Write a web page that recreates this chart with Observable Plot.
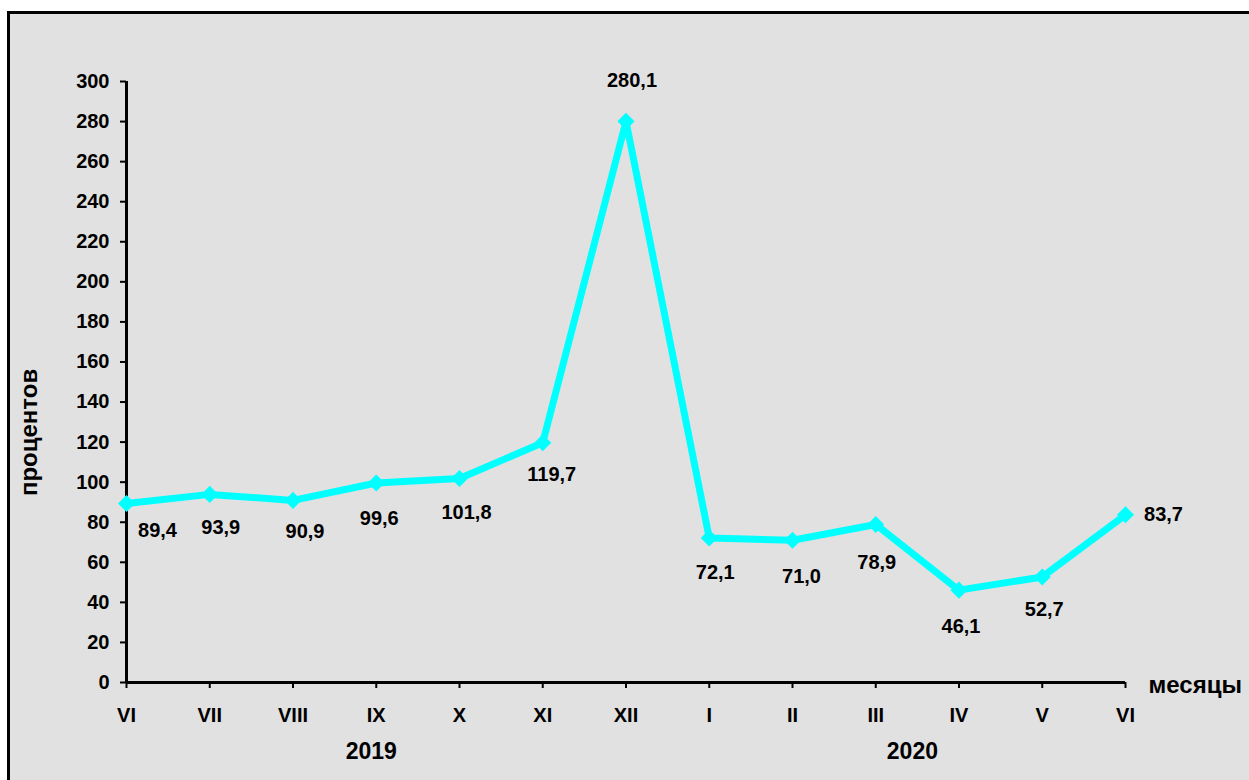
<!DOCTYPE html>
<html>
<head>
<meta charset="utf-8">
<script src="https://cdn.jsdelivr.net/npm/d3@7"></script>
<script src="https://cdn.jsdelivr.net/npm/@observablehq/plot@0.6"></script>
<style>
  html, body { margin: 0; padding: 0; width: 1249px; height: 780px; overflow: hidden; background: #ffffff; }
  #frame { position: absolute; left: 7px; top: 11px; width: 1260px; height: 800px; border: 3px solid #000; background: #e1e1e1; }
  #chart { position: absolute; left: 0; top: 0; }
</style>
</head>
<body>
<div id="frame"></div>
<div id="chart"></div>
<script>
// ---- data ----
const months = ["VI", "VII", "VIII", "IX", "X", "XI", "XII", "I", "II", "III", "IV", "V", "VI"];
const years  = [2019, 2019, 2019, 2019, 2019, 2019, 2019, 2020, 2020, 2020, 2020, 2020, 2020];
const values = [89.4, 93.9, 90.9, 99.6, 101.8, 119.7, 280.1, 72.1, 71.0, 78.9, 46.1, 52.7, 83.7];
const yTicks = [0, 20, 40, 60, 80, 100, 120, 140, 160, 180, 200, 220, 240, 260, 280, 300];
const yLabel = "процентов";
const xLabel = "месяцы";

// ---- layout (label offsets in px, not data) ----
const labelOffsets = [
  [31, 27], [11, 33], [12, 31], [3, 36], [7, 34], [9, 32], [6, -41],
  [6, 35], [9, 36], [1, 38], [2, 36], [2, 33], [38, 0]
];

const data = values.map((v, i) => ({i, v, month: months[i], year: years[i]}));
const yearGroups = d3.groups(data, d => d.year).map(([year, rows]) => ({year, x: d3.mean(rows, r => r.i)}));
const fmt = v => v.toFixed(1).replace(".", ",");

const chart = Plot.plot({
  width: 1249,
  height: 780,
  marginLeft: 126,
  marginRight: 124,
  marginTop: 81,
  marginBottom: 98,
  style: {fontFamily: "'Liberation Sans', Arial, sans-serif", fontSize: "20px", fontWeight: "bold", color: "#000", background: "transparent", overflow: "visible"},
  x: {type: "linear", domain: [0, months.length - 1]},
  y: {domain: [0, 300]},
  marks: [
    Plot.axisY({ticks: yTicks, tickSize: 6, tickPadding: 11, strokeWidth: 2, label: null, fontSize: 20, fontWeight: "bold"}),
    Plot.axisX({ticks: d3.range(months.length), tickFormat: i => months[i], tickSize: 6, tickPadding: 19, strokeWidth: 2, label: null, fontSize: 20, fontWeight: "bold"}),
    Plot.ruleY([0], {stroke: "#000", strokeWidth: 3}),
    Plot.ruleX([0], {stroke: "#000", strokeWidth: 3}),
    Plot.line(data, {x: "i", y: "v", stroke: "#00ffff", strokeWidth: 7, strokeLinejoin: "miter"}),
    Plot.dot(data, {x: "i", y: "v", symbol: "square", r: 6.8, rotate: 45, fill: "#00ffff", stroke: "none"}),
    ...data.map((d, k) => Plot.text([d], {x: "i", y: "v", text: r => fmt(r.v), dx: labelOffsets[k][0], dy: labelOffsets[k][1], fill: "#000", fontSize: 20, fontWeight: "bold"})),
    Plot.text(yearGroups, {x: "x", frameAnchor: "bottom", text: d => String(d.year), dx: -5, dy: 76, fill: "#000", fontSize: 23, fontWeight: "bold"}),
    Plot.text([xLabel], {x: () => months.length - 1, y: () => 0, text: d => d, textAnchor: "start", dx: 23, dy: 3, fill: "#000", fontSize: 24, fontWeight: "bold"}),
    Plot.text([yLabel], {x: () => 0, y: () => 124.8, text: d => d, rotate: -90, dx: -97, fill: "#000", fontSize: 24, fontWeight: "bold"})
  ]
});
document.getElementById("chart").appendChild(chart);
</script>
</body>
</html>
